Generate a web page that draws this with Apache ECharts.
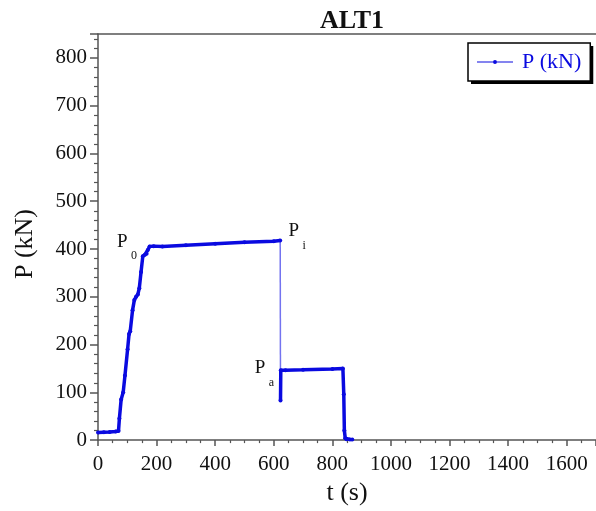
<!DOCTYPE html>
<html>
<head>
<meta charset="utf-8">
<script src="https://cdn.jsdelivr.net/npm/echarts@6/dist/echarts.min.js"></script>
<style>
  html, body { margin: 0; padding: 0; background: #fff; }
  #chart { width: 596px; height: 511px; }
</style>
</head>
<body>
<div id="chart"></div>
<script>
// loading phase, up to the peak P_i
var tLoad = [0, 20, 40, 60, 70, 73, 79, 86, 92, 101, 106, 110, 118, 124, 130, 136, 141, 147, 153, 160, 166, 170, 176, 190, 220, 300, 400, 500, 600, 622];
var pLoad = [16, 16.5, 17, 18, 19, 45, 85, 100, 135, 190, 222, 228, 272, 293, 300, 305, 318, 352, 385, 388, 390, 398, 405, 406, 405, 408, 411, 414, 416, 418];
// sudden drop after P_i
var tDrop = [622, 623];
var pDrop = [418, 83];
// residual phase P_a and unloading
var tRes = [623, 624, 640, 700, 800, 836, 839, 841, 844, 848, 860, 868];
var pRes = [83, 146, 146, 147, 149, 150, 96, 20, 4, 2, 1.5, 1];

var fontFamily = "'Liberation Serif', 'Times New Roman', serif";
var blue = '#0a0ae0';
var legendIcon = 'path://M0,1.5H36V2.5H0Z M20,2A2,2 0 1,1 16,2A2,2 0 1,1 20,2Z';

function zip(a, b) {
    var res = [];
    for (var i = 0; i < a.length; i++) {
        res.push([a[i], b[i]]);
    }
    return res;
}

// "P" with a subscript, anchored at a data coordinate
function annot(coord, sub) {
    return [
        { coord: coord, label: { show: true, position: [0, 0], formatter: 'P', fontFamily: fontFamily, fontSize: 19, color: '#111' } },
        { coord: coord, label: { show: true, position: [14, 18], formatter: sub, fontFamily: fontFamily, fontSize: 12, color: '#111' } }
    ];
}

function legendBox(withBorder) {
    return {
        data: [{ name: 'P (kN)', icon: legendIcon }],
        left: 468,
        top: 43,
        z: withBorder ? 6 : 5,
        padding: [8, 9, 8, 9],
        itemWidth: 36,
        itemHeight: 4,
        backgroundColor: '#fff',
        borderColor: '#000',
        borderWidth: withBorder ? 1.5 : 0,
        shadowColor: withBorder ? 'transparent' : '#000',
        shadowBlur: 0,
        shadowOffsetX: withBorder ? 0 : 3,
        shadowOffsetY: withBorder ? 0 : 3,
        textStyle: { fontFamily: fontFamily, fontSize: 22, color: blue, padding: [0, 0, 0, 4] }
    };
}

var myChart = echarts.init(document.getElementById('chart'));
var option = {
    animation: false,
    title: {
        text: 'ALT1',
        left: 347,
        top: 3,
        textAlign: 'center',
        textStyle: { fontFamily: fontFamily, fontSize: 26, fontWeight: 'bold', color: '#111' }
    },
    legend: [legendBox(false), legendBox(true)],
    grid: { left: 98, right: 0, top: 34, bottom: 70 },
    xAxis: [{
        type: 'value',
        min: 0,
        max: 1700,
        interval: 200,
        name: 't (s)',
        nameLocation: 'middle',
        nameGap: 38,
        nameTextStyle: { fontFamily: fontFamily, fontSize: 26, color: '#111' },
        axisLine: { lineStyle: { color: '#555', width: 1.5 } },
        axisTick: { length: 6, lineStyle: { color: '#555', width: 1.5 } },
        minorTick: { show: true, splitNumber: 4, length: 3, lineStyle: { color: '#555', width: 1.2 } },
        axisLabel: {
            margin: 14, showMaxLabel: false, fontFamily: fontFamily, fontSize: 21, color: '#111',
            formatter: function (v) { return String(v); }
        },
        splitLine: { show: false }
    }, {
        type: 'value',
        position: 'top',
        min: 0,
        max: 1700,
        axisLine: { show: true, lineStyle: { color: '#555', width: 1.5 } },
        axisTick: { show: false },
        axisLabel: { show: false },
        splitLine: { show: false }
    }],
    yAxis: {
        type: 'value',
        min: 0,
        max: 850,
        interval: 100,
        name: 'P (kN)',
        nameLocation: 'middle',
        nameGap: 60,
        nameTextStyle: { fontFamily: fontFamily, fontSize: 26, color: '#111', padding: [0, 14, 0, 0] },
        axisLine: { show: true, lineStyle: { color: '#555', width: 1.5 } },
        axisTick: { show: true, length: 8, lineStyle: { color: '#555', width: 1.5 } },
        minorTick: { show: true, splitNumber: 5, length: 4, lineStyle: { color: '#555', width: 1.2 } },
        axisLabel: {
            margin: 11, showMaxLabel: false, fontFamily: fontFamily, fontSize: 21, color: '#111',
            formatter: function (v) { return String(v); }
        },
        splitLine: { show: false }
    },
    series: [
        {
            name: 'P (kN)',
            type: 'line',
            data: zip(tLoad, pLoad),
            symbol: 'circle',
            symbolSize: 4,
            showSymbol: true,
            itemStyle: { color: blue },
            lineStyle: { color: blue, width: 3.5 },
            markPoint: {
                symbol: 'circle',
                symbolSize: 0,
                data: annot([65, 435], '0').concat(annot([650, 457], 'i'), annot([535, 171], 'a'))
            }
        },
        {
            name: 'drop',
            type: 'line',
            data: zip(tDrop, pDrop),
            symbol: 'none',
            lineStyle: { color: '#7373f0', width: 1.5 }
        },
        {
            name: 'P (kN)',
            type: 'line',
            data: zip(tRes, pRes),
            symbol: 'circle',
            symbolSize: 4,
            showSymbol: true,
            itemStyle: { color: blue },
            lineStyle: { color: blue, width: 3.5 }
        }
    ]
};
myChart.setOption(option);
</script>
</body>
</html>
